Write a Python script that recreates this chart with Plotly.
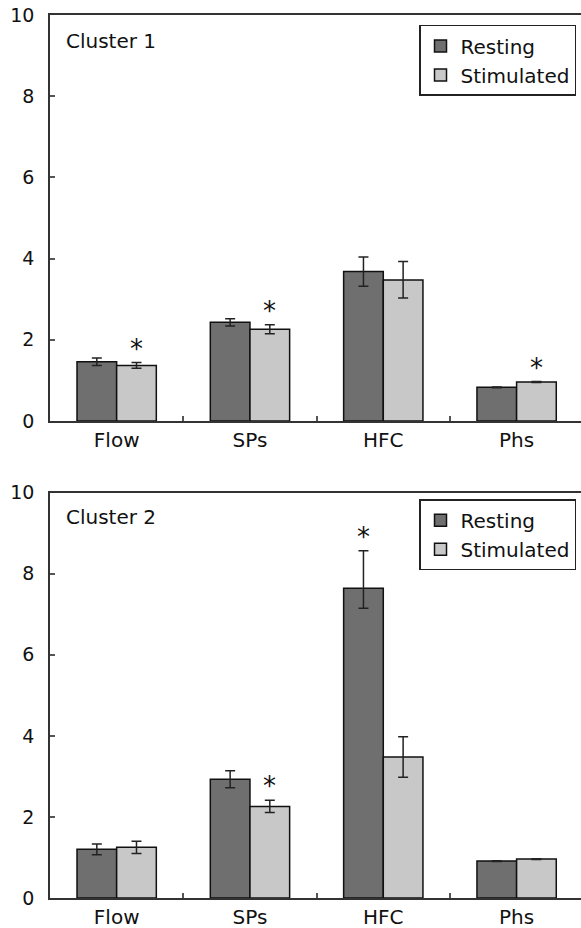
import plotly.graph_objects as go

categories = ["Flow", "SPs", "HFC", "Phs"]
series_names = ["Resting", "Stimulated"]

# Cluster 1
c1_resting = [1.46, 2.43, 3.68, 0.83]
c1_resting_ep = [0.09, 0.09, 0.36, 0.01]
c1_resting_em = [0.09, 0.09, 0.36, 0.01]
c1_stim = [1.37, 2.26, 3.47, 0.96]
c1_stim_ep = [0.07, 0.11, 0.46, 0.01]
c1_stim_em = [0.07, 0.11, 0.44, 0.01]
c1_sig_resting = [False, False, False, False]
c1_sig_stim = [True, True, False, True]

# Cluster 2
c2_resting = [1.20, 2.93, 7.64, 0.91]
c2_resting_ep = [0.13, 0.21, 0.93, 0.01]
c2_resting_em = [0.13, 0.21, 0.49, 0.01]
c2_stim = [1.25, 2.26, 3.48, 0.96]
c2_stim_ep = [0.15, 0.15, 0.50, 0.01]
c2_stim_em = [0.15, 0.15, 0.50, 0.01]
c2_sig_resting = [False, False, True, False]
c2_sig_stim = [False, True, False, False]

panel_titles = ["Cluster 1", "Cluster 2"]
y_ticks = [0, 2, 4, 6, 8, 10]

colors = {"Resting": "#6f6f6f", "Stimulated": "#c8c8c8"}
FONT = "DejaVu Sans"
BARGAP = 0.405
half = (1 - BARGAP) / 2  # bar width in category units

fig = go.Figure()

panels = [
    ("x", "y", "legend", [
        ("Resting", c1_resting, c1_resting_ep, c1_resting_em, c1_sig_resting),
        ("Stimulated", c1_stim, c1_stim_ep, c1_stim_em, c1_sig_stim)]),
    ("x2", "y2", "legend2", [
        ("Resting", c2_resting, c2_resting_ep, c2_resting_em, c2_sig_resting),
        ("Stimulated", c2_stim, c2_stim_ep, c2_stim_em, c2_sig_stim)]),
]

annotations = []
for pi, (xa, ya, lg, series) in enumerate(panels):
    for si, (name, vals, ep, em, sig) in enumerate(series):
        fig.add_trace(go.Bar(
            x=categories, y=vals, name=name, xaxis=xa, yaxis=ya, legend=lg,
            marker=dict(color=colors[name], line=dict(color="#111111", width=1.5)),
            error_y=dict(type="data", symmetric=False, array=ep, arrayminus=em,
                         color="#222222", thickness=1.5, width=5),
            offsetgroup=name,
        ))
        offset = (-0.5 + si) * half
        for ci, s in enumerate(sig):
            if s:
                annotations.append(dict(
                    x=ci + offset, y=vals[ci] + ep[ci], xref=xa, yref=ya,
                    text="*", showarrow=False, yanchor="bottom", yshift=-3,
                    font=dict(family=FONT, size=26, color="#111111")))

# layout geometry
top_dom = [0.5402, 1.0]
bot_dom = [0.0, 0.459]

axis_common_x = dict(
    type="category", range=[-0.5, 3.483], showline=True, linecolor="#333333",
    linewidth=1.5, mirror=True, ticks="inside", tickson="boundaries", ticklen=5,
    tickcolor="#555555", tickwidth=1.5, showgrid=False, zeroline=False,
    tickfont=dict(family=FONT, size=20, color="#111111"),
)
axis_common_y = dict(
    range=[0, 10], tickvals=y_ticks, showline=True, linecolor="#333333",
    linewidth=1.5, mirror=False, ticks="inside", ticklen=5, tickcolor="#555555",
    tickwidth=1.5, showgrid=False, zeroline=False, ticklabelstandoff=10,
    ticklabeloverflow="allow",
    tickfont=dict(family=FONT, size=19, color="#111111"),
)

legend_common = dict(xanchor="right", yanchor="top", bordercolor="#222222",
                     borderwidth=1.5, bgcolor="white",
                     font=dict(family=FONT, size=20, color="#111111"),
                     itemwidth=30, tracegroupgap=0)

fig.update_layout(
    width=581, height=928,
    margin=dict(l=50, r=0, t=15, b=30),
    paper_bgcolor="white", plot_bgcolor="white",
    barmode="group", bargap=BARGAP, bargroupgap=0,
    hovermode=False,
    xaxis=dict(domain=[0, 1], anchor="y", **axis_common_x),
    yaxis=dict(domain=top_dom, anchor="x", **axis_common_y),
    xaxis2=dict(domain=[0, 1], anchor="y2", **axis_common_x),
    yaxis2=dict(domain=bot_dom, anchor="x2", **axis_common_y),
    legend=dict(x=0.9906, y=0.9887, **legend_common),
    legend2=dict(x=0.9906, y=0.4515, **legend_common),
    showlegend=True,
)

annotations.append(dict(x=0.0264, y=0.971, xref="paper", yref="paper",
                        text=panel_titles[0], showarrow=False, xanchor="left",
                        yanchor="middle", font=dict(family=FONT, size=20, color="#111111")))
annotations.append(dict(x=0.0264, y=0.431, xref="paper", yref="paper",
                        text=panel_titles[1], showarrow=False, xanchor="left",
                        yanchor="middle", font=dict(family=FONT, size=20, color="#111111")))
fig.update_layout(annotations=annotations)

# remove the default page margin so the figure fills the window exactly
fig.write_html("out.html", config={"displayModeBar": False},
               post_script="document.body.style.margin='0px';")
